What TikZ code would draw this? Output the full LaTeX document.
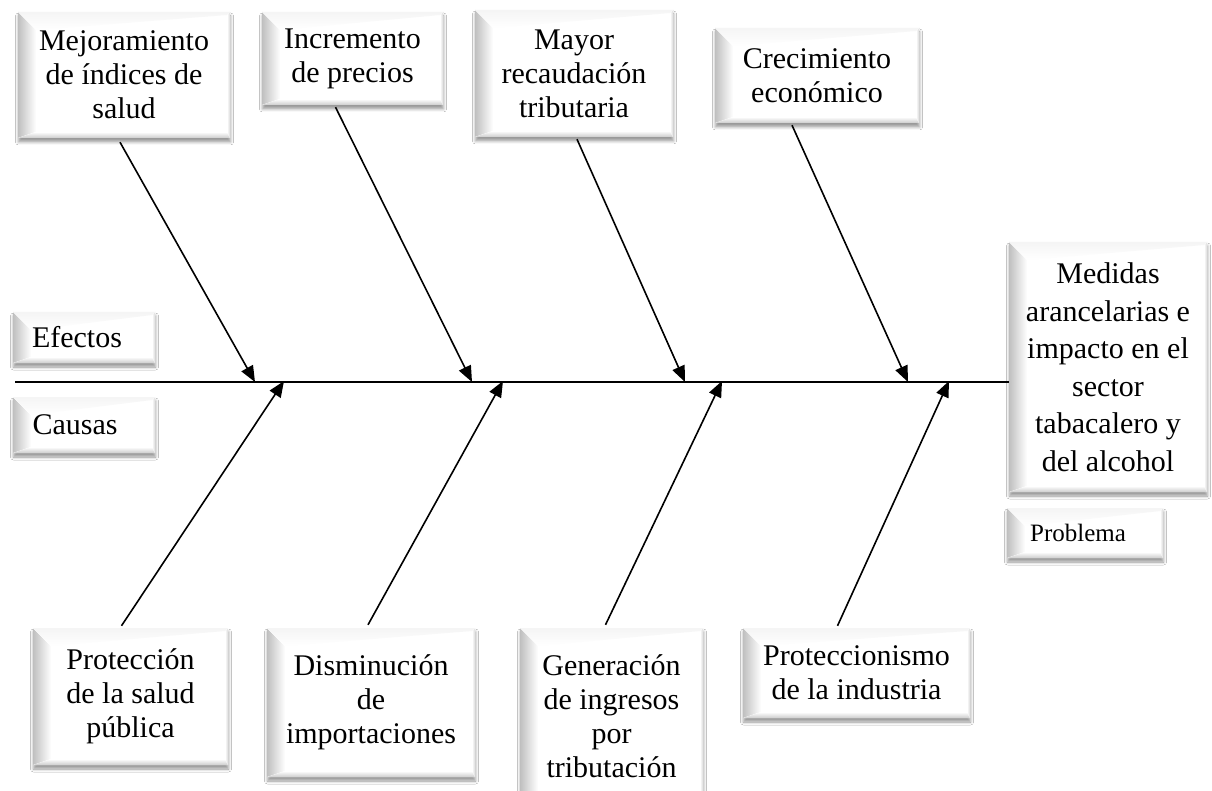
\documentclass[tikz,border=0pt]{standalone}
\usepackage{fontspec}
\setmainfont{Liberation Serif}
\usetikzlibrary{arrows.meta,shadows.blur}
\tikzset{
  bevbox/.style={fill=white, draw=none, inner sep=0pt, align=center,
    font=\fontsize{30}{34}\selectfont,
    blur shadow={shadow xshift=0.5pt, shadow yshift=-4pt, shadow blur radius=3pt, shadow opacity=40},
    path picture={
      \coordinate (SW) at (path picture bounding box.south west);
      \coordinate (NW) at (path picture bounding box.north west);
      \coordinate (SE) at (path picture bounding box.south east);
      \coordinate (NE) at (path picture bounding box.north east);
      \fill[left color=gray!50, right color=white] (SW) -- (NW) -- ([xshift=18pt,yshift=-18pt]NW) -- ([xshift=18pt,yshift=6pt]SW) -- cycle;
      \fill[top color=white, bottom color=gray!40] (SW) -- ([xshift=18pt,yshift=6pt]SW) -- ([xshift=-3pt,yshift=6pt]SE) -- (SE) -- cycle;
      \fill[left color=white, right color=gray!30] (SE) -- ([xshift=-3pt,yshift=6pt]SE) -- ([xshift=-3pt,yshift=-3pt]NE) -- (NE) -- cycle;
      \fill[top color=gray!8, bottom color=white] (NW) -- ([xshift=18pt,yshift=-18pt]NW) -- ([xshift=-3pt,yshift=-3pt]NE) -- (NE) -- cycle;
    }},
  arr/.style={line width=1.6pt, -{Triangle[length=16pt,width=13pt]}},
  spine/.style={line width=1.8pt}
}
\begin{document}
\begin{tikzpicture}[x=1pt,y=-1pt]
\useasboundingbox (0,0) rectangle (1212,791);
\fill[white] (0,0) rectangle (1212,791);

% effect boxes (top)
\node[bevbox, minimum width=212pt, minimum height=126pt] (b1) at (124,75) {Mejoramiento\\de índices de\\salud};
\node[bevbox, minimum width=181pt, minimum height=93pt] (b2) at (352.5,58.5) {Incremento\\de precios};
\node[bevbox, minimum width=198pt, minimum height=127pt] (b3) at (574,73.5) {Mayor\\recaudación\\tributaria};
\node[bevbox, minimum width=204pt, minimum height=95pt] (b4) at (817,75.5) {Crecimiento\\económico};

% labels
\node[bevbox, minimum width=142pt, minimum height=51pt] (ef) at (84,337.5) {\hspace*{-14pt}Efectos};
\node[bevbox, minimum width=142pt, minimum height=56pt] (ca) at (84,425) {\hspace*{-18pt}Causas};

% problem
\node[bevbox, minimum width=198pt, minimum height=250pt, font=\fontsize{30}{37.5}\selectfont] (m) at (1108,367) {Medidas\\arancelarias e\\impacto en el\\sector\\tabacalero y\\del alcohol};
\node[bevbox, minimum width=156pt, minimum height=50pt, font=\fontsize{25}{30}\selectfont] (pb) at (1085,533) {\hspace*{-14pt}Problema};

% cause boxes (bottom)
\node[bevbox, minimum width=195pt, minimum height=137pt] (q1) at (130.5,696.5) {Protección\\de la salud\\pública};
\node[bevbox, minimum width=208pt, minimum height=149pt] (q2) at (371,702.5) {Disminución\\de\\importaciones};
\node[bevbox, minimum width=183pt, minimum height=177pt] (q3) at (611.5,716.5) {Generación\\de ingresos\\por\\tributación};
\node[bevbox, minimum width=227pt, minimum height=90pt] (q4) at (856.5,673) {Proteccionismo\\de la industria};

% spine
\coordinate (sl) at (15,382);
\draw[spine] (sl) -- (m.west |- sl);

% tips on spine
\coordinate (t1) at (255,382);
\coordinate (t2) at (472,382);
\coordinate (t3) at (685,382);
\coordinate (t4) at (908,382);
\coordinate (u1) at (284,381);
\coordinate (u2) at (503,381);
\coordinate (u3) at (722,381);
\coordinate (u4) at (949,381);

\draw[arr] ([xshift=-4pt,yshift=-4pt]b1.south) -- (t1);
\draw[arr] ([xshift=-17pt,yshift=-2pt]b2.south) -- (t2);
\draw[arr] ([xshift=3pt,yshift=-2pt]b3.south) -- (t3);
\draw[arr] ([xshift=-25pt,yshift=-2pt]b4.south) -- (t4);

\draw[arr] ([xshift=-9pt,yshift=2pt]q1.north) -- (u1);
\draw[arr] ([xshift=-3pt,yshift=3pt]q2.north) -- (u2);
\draw[arr] ([xshift=-6pt,yshift=3pt]q3.north) -- (u3);
\draw[arr] ([xshift=-19pt,yshift=2pt]q4.north) -- (u4);
\end{tikzpicture}
\end{document}
